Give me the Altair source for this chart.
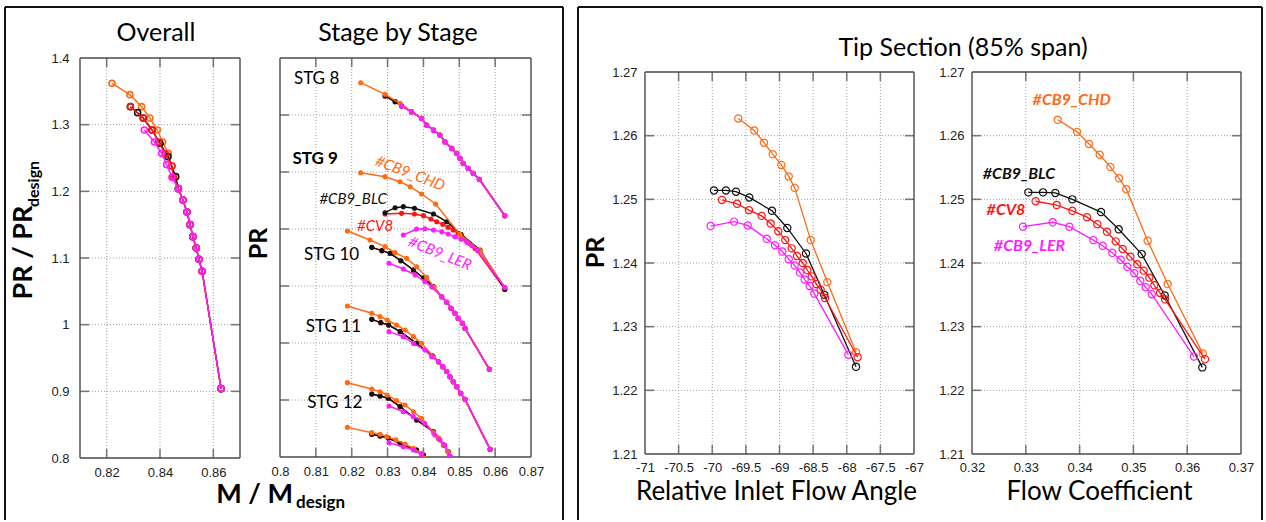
import altair as alt
import pandas as pd

# ---------------- Overall (PR/PRdesign vs M/Mdesign) ----------------
ov_chd_x = [0.8220, 0.8287, 0.8331, 0.8362, 0.8390, 0.8410, 0.8431, 0.8444, 0.8450, 0.8469, 0.8486, 0.8501, 0.8513, 0.8523, 0.8536, 0.8546, 0.8558, 0.8629]
ov_chd_y = [1.362, 1.345, 1.327, 1.310, 1.292, 1.274, 1.257, 1.238, 1.221, 1.204, 1.187, 1.169, 1.150, 1.132, 1.115, 1.098, 1.080, 0.904]
ov_blc_x = [0.8289, 0.8316, 0.8337, 0.8370, 0.8400, 0.8430, 0.8459, 0.8469, 0.8486, 0.8501, 0.8513, 0.8523, 0.8536, 0.8546, 0.8558, 0.8629]
ov_blc_y = [1.327, 1.318, 1.310, 1.292, 1.272, 1.252, 1.222, 1.204, 1.187, 1.169, 1.150, 1.132, 1.115, 1.098, 1.080, 0.904]
ov_cv8_x = [0.8289, 0.8337, 0.8370, 0.8395, 0.8420, 0.8445, 0.8450, 0.8469, 0.8486, 0.8501, 0.8513, 0.8523, 0.8536, 0.8546, 0.8558, 0.8629]
ov_cv8_y = [1.327, 1.310, 1.292, 1.274, 1.256, 1.238, 1.221, 1.204, 1.187, 1.169, 1.150, 1.132, 1.115, 1.098, 1.080, 0.904]
ov_ler_x = [0.8341, 0.8379, 0.8406, 0.8425, 0.8445, 0.8469, 0.8486, 0.8501, 0.8513, 0.8523, 0.8536, 0.8546, 0.8558, 0.8629]
ov_ler_y = [1.292, 1.274, 1.257, 1.240, 1.221, 1.204, 1.187, 1.169, 1.150, 1.132, 1.115, 1.098, 1.080, 0.904]

# ---------------- Stage by stage (relative PR position, grid units) ----------------
s8_chd_x = [0.8225, 0.8293, 0.8335, 0.8367, 0.8395, 0.8409, 0.8428, 0.8446, 0.8460, 0.8479, 0.8493, 0.8502, 0.8511, 0.8525, 0.8539, 0.8556, 0.8627]
s8_chd_y = [6.567, 6.363, 6.205, 6.058, 5.942, 5.825, 5.737, 5.649, 5.532, 5.416, 5.328, 5.240, 5.152, 5.065, 4.977, 4.871, 4.233]
s8_blc_x = [0.8293, 0.8321, 0.8339, 0.8367, 0.8395, 0.8409, 0.8428, 0.8446, 0.8460, 0.8479, 0.8493, 0.8502, 0.8511, 0.8525, 0.8539, 0.8556, 0.8627]
s8_blc_y = [6.333, 6.234, 6.160, 6.058, 5.942, 5.825, 5.737, 5.649, 5.532, 5.416, 5.328, 5.240, 5.152, 5.065, 4.977, 4.871, 4.233]
s8_ler_x = [0.8339, 0.8367, 0.8395, 0.8409, 0.8428, 0.8446, 0.8460, 0.8479, 0.8493, 0.8502, 0.8511, 0.8525, 0.8539, 0.8556, 0.8627]
s8_ler_y = [6.158, 6.050, 5.935, 5.820, 5.730, 5.640, 5.525, 5.410, 5.320, 5.235, 5.145, 5.060, 4.970, 4.865, 4.233]

s9_chd_x = [0.8225, 0.8293, 0.8335, 0.8363, 0.8395, 0.8434, 0.8502, 0.8558, 0.8627]
s9_chd_y = [4.988, 4.918, 4.830, 4.742, 4.614, 4.439, 3.906, 3.620, 2.977]
s9_blc_x = [0.8293, 0.8321, 0.8344, 0.8375, 0.8428, 0.8465, 0.8505, 0.8558, 0.8627]
s9_blc_y = [4.286, 4.374, 4.392, 4.363, 4.263, 4.128, 3.907, 3.632, 2.942]
s9_cv8_x = [0.8293, 0.8339, 0.8375, 0.8400, 0.8421, 0.8437, 0.8454, 0.8469, 0.8483, 0.8497, 0.8511, 0.8528, 0.8544, 0.8627]
s9_cv8_y = [4.263, 4.275, 4.263, 4.234, 4.175, 4.128, 4.082, 4.029, 3.982, 3.924, 3.836, 3.749, 3.660, 2.940]
s9_ler_x = [0.8344, 0.8381, 0.8404, 0.8428, 0.8451, 0.8469, 0.8488, 0.8505, 0.8521, 0.8535, 0.8551, 0.8627]
s9_ler_y = [3.895, 4.000, 4.005, 3.982, 3.950, 3.912, 3.865, 3.819, 3.766, 3.708, 3.620, 2.977]

s10_chd_x = [0.8188, 0.8251, 0.8293, 0.8321, 0.8353, 0.8381, 0.8409, 0.8430, 0.8451, 0.8465, 0.8477, 0.8488, 0.8497, 0.8509, 0.8516, 0.8584]
s10_chd_y = [3.965, 3.807, 3.690, 3.585, 3.485, 3.339, 3.152, 2.977, 2.812, 2.714, 2.608, 2.521, 2.433, 2.345, 2.258, 1.538]
s10_blc_x = [0.8256, 0.8284, 0.8307, 0.8337, 0.8372, 0.8400, 0.8428, 0.8451, 0.8465, 0.8477, 0.8488, 0.8497, 0.8509, 0.8516, 0.8584]
s10_blc_y = [3.678, 3.620, 3.573, 3.444, 3.281, 3.140, 2.988, 2.812, 2.714, 2.608, 2.521, 2.433, 2.345, 2.258, 1.538]
s10_ler_x = [0.8304, 0.8344, 0.8377, 0.8404, 0.8423, 0.8451, 0.8465, 0.8477, 0.8488, 0.8497, 0.8509, 0.8516, 0.8584]
s10_ler_y = [3.398, 3.298, 3.193, 3.076, 2.985, 2.812, 2.714, 2.608, 2.521, 2.433, 2.345, 2.258, 1.538]

s11_chd_x = [0.8188, 0.8256, 0.8279, 0.8299, 0.8325, 0.8349, 0.8372, 0.8395, 0.8428, 0.8442, 0.8454, 0.8465, 0.8474, 0.8483, 0.8493, 0.8504, 0.8516, 0.8586]
s11_chd_y = [2.649, 2.521, 2.462, 2.404, 2.316, 2.228, 2.111, 1.994, 1.760, 1.672, 1.585, 1.500, 1.409, 1.321, 1.234, 1.117, 1.012, 0.135]
s11_blc_x = [0.8256, 0.8281, 0.8303, 0.8335, 0.8381, 0.8426, 0.8442, 0.8454, 0.8465, 0.8474, 0.8483, 0.8493, 0.8504, 0.8516, 0.8586]
s11_blc_y = [2.415, 2.357, 2.316, 2.199, 1.994, 1.772, 1.672, 1.585, 1.500, 1.409, 1.321, 1.234, 1.117, 1.012, 0.135]
s11_ler_x = [0.8304, 0.8344, 0.8372, 0.8404, 0.8423, 0.8442, 0.8454, 0.8465, 0.8474, 0.8483, 0.8493, 0.8504, 0.8516, 0.8586]
s11_ler_y = [2.199, 2.111, 1.994, 1.877, 1.760, 1.672, 1.585, 1.500, 1.409, 1.321, 1.234, 1.117, 1.012, 0.135]

s12_chd_x = [0.8188, 0.8256, 0.8279, 0.8299, 0.8325, 0.8349, 0.8372, 0.8395, 0.8428, 0.8442, 0.8456, 0.8469, 0.8474]
s12_chd_y = [1.304, 1.193, 1.146, 1.088, 0.990, 0.912, 0.795, 0.678, 0.427, 0.330, 0.211, 0.094, 0.006]
s12_blc_x = [0.8256, 0.8279, 0.8302, 0.8335, 0.8381, 0.8428, 0.8442, 0.8456, 0.8469, 0.8474]
s12_blc_y = [1.105, 1.070, 1.030, 0.883, 0.649, 0.444, 0.330, 0.211, 0.094, 0.006]
s12_ler_x = [0.8304, 0.8344, 0.8372, 0.8404, 0.8432, 0.8446, 0.8460, 0.8474]
s12_ler_y = [0.895, 0.795, 0.708, 0.591, 0.386, 0.300, 0.210, 0.018]

s13_chd_x = [0.8188, 0.8256, 0.8279, 0.8298, 0.8323, 0.8349, 0.8372, 0.8395, 0.8402]
s13_chd_y = [0.520, 0.427, 0.398, 0.357, 0.300, 0.228, 0.152, 0.064, -0.020]
s13_blc_x = [0.8256, 0.8279, 0.8302, 0.8335, 0.8381, 0.8400]
s13_blc_y = [0.398, 0.370, 0.333, 0.234, 0.123, 0.035]
s13_ler_x = [0.8304, 0.8344, 0.8372, 0.8395]
s13_ler_y = [0.251, 0.180, 0.123, 0.047]

stage_names = ["STG 8", "STG 9", "STG 10", "STG 11", "STG 12"]
stage_label_x = [0.8102, 0.8098, 0.8144, 0.8149, 0.8153]
stage_label_y = [6.626, 5.223, 3.544, 2.286, 0.942]

# ---------------- Tip section: PR vs relative inlet flow angle ----------------
ang_chd_x = [-69.613, -69.375, -69.230, -69.101, -68.973, -68.863, -68.774, -68.536, -68.289, -67.862]
ang_chd_y = [1.2627, 1.2608, 1.2589, 1.2571, 1.2554, 1.2536, 1.2518, 1.2436, 1.2370, 1.2260]
ang_blc_x = [-69.974, -69.796, -69.647, -69.449, -69.112, -68.884, -68.606, -68.334, -67.862]
ang_blc_y = [1.2514, 1.2514, 1.2512, 1.2503, 1.2482, 1.2455, 1.2415, 1.2350, 1.2237]
ang_cv8_x = [-69.855, -69.632, -69.454, -69.265, -69.131, -69.018, -68.914, -68.819, -68.740, -68.655, -68.587, -68.521, -68.453, -68.388, -68.323, -67.838]
ang_cv8_y = [1.2499, 1.2493, 1.2483, 1.2474, 1.2462, 1.2450, 1.2436, 1.2423, 1.2411, 1.2400, 1.2389, 1.2379, 1.2367, 1.2358, 1.2345, 1.2252]
ang_ler_x = [-70.024, -69.677, -69.473, -69.190, -69.067, -68.958, -68.863, -68.774, -68.695, -68.625, -68.551, -68.483, -67.977]
ang_ler_y = [1.2458, 1.2465, 1.2459, 1.2438, 1.2428, 1.2418, 1.2406, 1.2396, 1.2385, 1.2374, 1.2364, 1.2352, 1.2256]

# ---------------- Tip section: PR vs flow coefficient ----------------
phi_chd_x = [0.33593, 0.33952, 0.34175, 0.34373, 0.34571, 0.34732, 0.34868, 0.35265, 0.35637, 0.36288]
phi_chd_y = [1.2625, 1.2606, 1.2587, 1.2570, 1.2551, 1.2533, 1.2516, 1.2435, 1.2367, 1.2258]
phi_blc_x = [0.33047, 0.33320, 0.33549, 0.33865, 0.34398, 0.34727, 0.35154, 0.35582, 0.36281]
phi_blc_y = [1.2511, 1.2511, 1.2510, 1.2500, 1.2480, 1.2453, 1.2414, 1.2349, 1.2236]
phi_cv8_x = [0.33183, 0.33574, 0.33865, 0.34138, 0.34329, 0.34509, 0.34671, 0.34801, 0.34943, 0.35072, 0.35191, 0.35296, 0.35389, 0.35494, 0.35587, 0.36331]
phi_cv8_y = [1.2497, 1.2491, 1.2482, 1.2472, 1.2461, 1.2449, 1.2434, 1.2422, 1.2410, 1.2398, 1.2388, 1.2377, 1.2365, 1.2353, 1.2343, 1.2249]
phi_ler_x = [0.32948, 0.33499, 0.33810, 0.34255, 0.34429, 0.34608, 0.34763, 0.34887, 0.35017, 0.35128, 0.35228, 0.35340, 0.36126]
phi_ler_y = [1.2457, 1.2464, 1.2457, 1.2436, 1.2427, 1.2416, 1.2405, 1.2394, 1.2384, 1.2372, 1.2362, 1.2351, 1.2253]

series_names = ["#CB9_CHD", "#CB9_BLC", "#CV8", "#CB9_LER"]

# tick / grid values
ov_xticks = [0.82, 0.84, 0.86]
ov_yticks = [0.8, 0.9, 1.0, 1.1, 1.2, 1.3, 1.4]
st_xticks = [0.8, 0.81, 0.82, 0.83, 0.84, 0.85, 0.86, 0.87]
st_ygrid = [1, 2, 3, 4, 5, 6]
ang_xticks = [-71, -70.5, -70, -69.5, -69, -68.5, -68, -67.5, -67]
phi_xticks = [0.32, 0.33, 0.34, 0.35, 0.36, 0.37]
tip_yticks = [1.21, 1.22, 1.23, 1.24, 1.25, 1.26, 1.27]

ORANGE = "#FF6A13"
BLACK = "#111111"
RED = "#FF1414"
MAGENTA = "#FF1CFF"
FRAME = "#4a4a4a"
GRIDC = "#a0a0a0"
TXT = "Lato"
NUMF = "Liberation Sans"


def enc(xdom, ydom, xaxis, yaxis):
    X = alt.X("x:Q", scale=alt.Scale(domain=xdom, nice=False, zero=False), axis=xaxis)
    Y = alt.Y("y:Q", scale=alt.Scale(domain=ydom, nice=False, zero=False), axis=yaxis)
    return X, Y


def furniture(X, Y, xf, yf, xgrid, ygrid, xticks, yticks):
    layers = []
    vg = pd.DataFrame({"x": xgrid, "y": [yf[0]] * len(xgrid), "y2": [yf[1]] * len(xgrid)})
    layers.append(alt.Chart(vg).mark_rule(color=GRIDC, strokeWidth=1, strokeDash=[1, 2]).encode(x=X, y=Y, y2="y2:Q"))
    hg = pd.DataFrame({"y": ygrid, "x": [xf[0]] * len(ygrid), "x2": [xf[1]] * len(ygrid)})
    layers.append(alt.Chart(hg).mark_rule(color=GRIDC, strokeWidth=1, strokeDash=[1, 2]).encode(y=Y, x=X, x2="x2:Q"))
    # inward ticks on all four sides
    for yv, off in ((yf[0], -4.5), (yf[1], 4.5)):
        d = pd.DataFrame({"x": xticks, "y": [yv] * len(xticks)})
        layers.append(alt.Chart(d).mark_tick(orient="vertical", size=9, thickness=1.6, color=FRAME, yOffset=off).encode(x=X, y=Y))
    for xv, off in ((xf[0], 4.5), (xf[1], -4.5)):
        d = pd.DataFrame({"y": yticks, "x": [xv] * len(yticks)})
        layers.append(alt.Chart(d).mark_tick(orient="horizontal", size=9, thickness=1.6, color=FRAME, xOffset=off).encode(x=X, y=Y))
    # frame
    fv = pd.DataFrame({"x": [xf[0], xf[1]], "y": [yf[0], yf[0]], "y2": [yf[1], yf[1]]})
    layers.append(alt.Chart(fv).mark_rule(color=FRAME, strokeWidth=1.4).encode(x=X, y=Y, y2="y2:Q"))
    fh = pd.DataFrame({"y": [yf[0], yf[1]], "x": [xf[0], xf[0]], "x2": [xf[1], xf[1]]})
    layers.append(alt.Chart(fh).mark_rule(color=FRAME, strokeWidth=1.4).encode(x=X, y=Y, x2="x2:Q"))
    return layers


def curve(X, Y, parts, color, kind):
    rows = []
    for gi, (xs, ys) in enumerate(parts):
        for a, b in zip(xs, ys):
            rows.append({"x": a, "y": b, "g": gi})
    d = pd.DataFrame(rows)
    base = alt.Chart(d)
    lw = {"open": 1.4, "dot": 1.5, "tip": 1.3}[kind]
    line = base.mark_line(color=color, strokeWidth=lw, clip=True).encode(x=X, y=Y, detail="g:N", order="x:Q")
    if kind == "dot":
        pts = base.mark_circle(color=color, size=26, opacity=1, clip=True).encode(x=X, y=Y)
    elif kind == "open":
        pts = base.mark_point(color=color, size=36, strokeWidth=1.6, filled=False, opacity=1, clip=True).encode(x=X, y=Y)
    else:
        pts = base.mark_point(color=color, size=52, strokeWidth=1.2, filled=False, opacity=1, clip=True).encode(x=X, y=Y)
    return [line, pts]


def label_axis(**kw):
    base = dict(grid=False, ticks=False, domain=False, labelFont=NUMF, labelFontSize=13,
                labelColor="#222222", labelExpr="'' + datum.value", labelOverlap=False, labelFlush=False)
    base.update(kw)
    return alt.Axis(**base)


def one_text(t, x, y, **kw):
    return alt.Chart(pd.DataFrame({"t": [t]})).mark_text(**kw).encode(text="t:N", x=alt.value(x), y=alt.value(y))


BOX = dict(color="#111111", strokeWidth=2)

# ---------------- Panel 1: Overall ----------------
X1, Y1 = enc([0.81, 0.87], [0.8, 1.4],
             label_axis(values=ov_xticks, labelPadding=8, title=None),
             label_axis(values=ov_yticks, labelPadding=11, title="PR / PR", titleFont=TXT, titleFontSize=27,
                        titleFontWeight="bold", titleColor="#000000", titleX=-57, titleY=194,
                        titleAngle=270, titleAlign="center", titleBaseline="middle"))
p1_layers = furniture(X1, Y1, [0.81, 0.87], [0.8, 1.4], ov_xticks, ov_yticks[1:-1], ov_xticks, ov_yticks[1:-1])
p1_layers += curve(X1, Y1, [(ov_chd_x, ov_chd_y)], ORANGE, "open")
p1_layers += curve(X1, Y1, [(ov_blc_x, ov_blc_y)], BLACK, "open")
p1_layers += curve(X1, Y1, [(ov_cv8_x, ov_cv8_y)], RED, "open")
p1_layers += curve(X1, Y1, [(ov_ler_x, ov_ler_y)], MAGENTA, "open")
p1_layers += [
    one_text("Overall", 76, -25, font=TXT, fontSize=25, baseline="middle", align="center", color="#000"),
    one_text("design", -46, 126, font=TXT, fontSize=16, fontWeight="bold", angle=270, baseline="middle", align="center", color="#000"),
    one_text("M / M", 213, 445, font=TXT, fontSize=27, fontWeight="bold", align="right", baseline="alphabetic", color="#000"),
    one_text("design", 216, 450, font=TXT, fontSize=17, fontWeight="bold", align="left", baseline="alphabetic", color="#000"),
    # left outer box
    alt.Chart(pd.DataFrame({"a": [0]})).mark_rule(**BOX).encode(x=alt.value(-75), y=alt.value(-51), y2=alt.value(462)),
    alt.Chart(pd.DataFrame({"a": [0]})).mark_rule(**BOX).encode(x=alt.value(483), y=alt.value(-51), y2=alt.value(462)),
    alt.Chart(pd.DataFrame({"a": [0]})).mark_rule(**BOX).encode(x=alt.value(-75), x2=alt.value(483), y=alt.value(-51)),
]
p1 = alt.layer(*p1_layers).properties(width=160, height=400)

# ---------------- Panel 2: Stage by stage ----------------
X2, Y2 = enc([0.8, 0.87], [0, 7],
             label_axis(values=st_xticks, labelPadding=8, title=None),
             alt.Axis(labels=False, ticks=False, domain=False, grid=False, title="PR", titleFont=TXT,
                      titleFontSize=25, titleFontWeight="bold", titleColor="#000000", titleX=-22, titleY=185,
                      titleAngle=270, titleAlign="center", titleBaseline="middle"))
p2_layers = furniture(X2, Y2, [0.8, 0.87], [0, 7], st_xticks[1:-1], st_ygrid, st_xticks[1:-1], st_ygrid)
p2_layers += curve(X2, Y2, [(s8_blc_x, s8_blc_y), (s10_blc_x, s10_blc_y), (s11_blc_x, s11_blc_y),
                            (s12_blc_x, s12_blc_y), (s13_blc_x, s13_blc_y), (s9_cv8_x, s9_cv8_y)], RED, "dot")
p2_layers += curve(X2, Y2, [(s8_blc_x, s8_blc_y), (s9_blc_x, s9_blc_y), (s10_blc_x, s10_blc_y), (s11_blc_x, s11_blc_y),
                            (s12_blc_x, s12_blc_y), (s13_blc_x, s13_blc_y)], BLACK, "dot")
p2_layers += curve(X2, Y2, [(s8_chd_x, s8_chd_y), (s9_chd_x, s9_chd_y), (s10_chd_x, s10_chd_y), (s11_chd_x, s11_chd_y),
                            (s12_chd_x, s12_chd_y), (s13_chd_x, s13_chd_y)], ORANGE, "dot")
p2_layers += curve(X2, Y2, [(s8_ler_x, s8_ler_y), (s9_ler_x, s9_ler_y), (s10_ler_x, s10_ler_y), (s11_ler_x, s11_ler_y),
                            (s12_ler_x, s12_ler_y), (s13_ler_x, s13_ler_y)], MAGENTA, "dot")
stg_df = pd.DataFrame({"x": stage_label_x, "y": stage_label_y, "t": stage_names,
                       "w": ["normal", "bold", "normal", "normal", "normal"]})
p2_layers.append(alt.Chart(stg_df[stg_df.w == "normal"]).mark_text(font=TXT, fontSize=17, color="#000")
                 .encode(x=X2, y=Y2, text="t:N"))
p2_layers.append(alt.Chart(stg_df[stg_df.w == "bold"]).mark_text(font=TXT, fontSize=17, fontWeight="bold", color="#000")
                 .encode(x=X2, y=Y2, text="t:N"))
s_lab = pd.DataFrame({"x": [0.8363, 0.8204, 0.8265, 0.8446], "y": [4.977, 4.521, 4.058, 3.573], "t": series_names})
for i, (col, ang) in enumerate([(ORANGE, 21), (BLACK, 0), (RED, 0), (MAGENTA, 22)]):
    p2_layers.append(alt.Chart(s_lab.iloc[[i]]).mark_text(font=TXT, fontSize=15, fontStyle="italic", color=col, angle=ang)
                     .encode(x=X2, y=Y2, text="t:N"))
p2_layers.append(one_text("Stage by Stage", 118, -25, font=TXT, fontSize=25, baseline="middle", align="center", color="#000"))
p2 = alt.layer(*p2_layers).properties(width=251, height=399)

# ---------------- Panel 3: Relative inlet flow angle ----------------
TIP_YDOM = [1.21, 1.2722]
X3, Y3 = enc([-71, -67], TIP_YDOM,
             label_axis(values=ang_xticks, labelPadding=7, title="Relative Inlet Flow Angle", titleFont=TXT,
                        titleFontSize=26, titleFontWeight="normal", titleColor="#000000", titleX=131, titleY=37,
                        titleAlign="center", titleBaseline="middle"),
             label_axis(values=tip_yticks, labelPadding=8, title="PR", titleFont=TXT, titleFontSize=25,
                        titleFontWeight="bold", titleColor="#000000", titleX=-50, titleY=194,
                        titleAngle=270, titleAlign="center", titleBaseline="middle"))
p3_layers = furniture(X3, Y3, [-71, -67], [1.21, 1.27], ang_xticks[1:-1], tip_yticks[1:-1], ang_xticks[1:-1], tip_yticks[1:-1])
p3_layers += curve(X3, Y3, [(ang_chd_x, ang_chd_y)], ORANGE, "tip")
p3_layers += curve(X3, Y3, [(ang_blc_x, ang_blc_y)], BLACK, "tip")
p3_layers += curve(X3, Y3, [(ang_cv8_x, ang_cv8_y)], RED, "tip")
p3_layers += curve(X3, Y3, [(ang_ler_x, ang_ler_y)], MAGENTA, "tip")
p3_layers.append(one_text("Tip Section (85% span)", 318, -10, font=TXT, fontSize=25, baseline="middle", align="center", color="#000"))
p3 = alt.layer(*p3_layers).properties(width=269, height=396)

# ---------------- Panel 4: Flow coefficient ----------------
X4, Y4 = enc([0.32, 0.37], TIP_YDOM,
             label_axis(values=phi_xticks, labelPadding=7, title="Flow Coefficient", titleFont=TXT,
                        titleFontSize=26, titleFontWeight="normal", titleColor="#000000", titleX=127, titleY=37,
                        titleAlign="center", titleBaseline="middle"),
             label_axis(values=tip_yticks, labelPadding=8, title=None))
p4_layers = furniture(X4, Y4, [0.32, 0.37], [1.21, 1.27], phi_xticks[1:-1], tip_yticks[1:-1], phi_xticks[1:-1], tip_yticks[1:-1])
p4_layers += curve(X4, Y4, [(phi_chd_x, phi_chd_y)], ORANGE, "tip")
p4_layers += curve(X4, Y4, [(phi_blc_x, phi_blc_y)], BLACK, "tip")
p4_layers += curve(X4, Y4, [(phi_cv8_x, phi_cv8_y)], RED, "tip")
p4_layers += curve(X4, Y4, [(phi_ler_x, phi_ler_y)], MAGENTA, "tip")
t_lab = pd.DataFrame({"x": [0.33853, 0.32874, 0.32632, 0.33069], "y": [1.2656, 1.2540, 1.2483, 1.2426], "t": series_names})
for i, col in enumerate([ORANGE, BLACK, RED, MAGENTA]):
    p4_layers.append(alt.Chart(t_lab.iloc[[i]]).mark_text(font=TXT, fontSize=16, fontStyle="italic", fontWeight="bold", color=col)
                     .encode(x=X4, y=Y4, text="t:N"))
p4_layers += [
    alt.Chart(pd.DataFrame({"a": [0]})).mark_rule(**BOX).encode(x=alt.value(-394), y=alt.value(-51), y2=alt.value(462)),
    alt.Chart(pd.DataFrame({"a": [0]})).mark_rule(**BOX).encode(x=alt.value(290), y=alt.value(-51), y2=alt.value(462)),
    alt.Chart(pd.DataFrame({"a": [0]})).mark_rule(**BOX).encode(x=alt.value(-394), x2=alt.value(290), y=alt.value(-51)),
]
p4 = alt.layer(*p4_layers).properties(width=269, height=396)


def spacer(w):
    return alt.Chart(pd.DataFrame({"v": [0]})).mark_point(opacity=0).encode(
        x=alt.X("v:Q", axis=None), y=alt.Y("v:Q", axis=None)).properties(width=w, height=10)


chart = alt.hconcat(p1, spacer(40), p2, spacer(114), p3, spacer(58), p4, spacing=0, bounds="flush").properties(
    padding={"left": 4, "top": 6, "right": 3, "bottom": 1},
    background="white",
).configure_view(stroke=None)

chart.save("out.html", embed_options={"renderer": "svg", "actions": False})
